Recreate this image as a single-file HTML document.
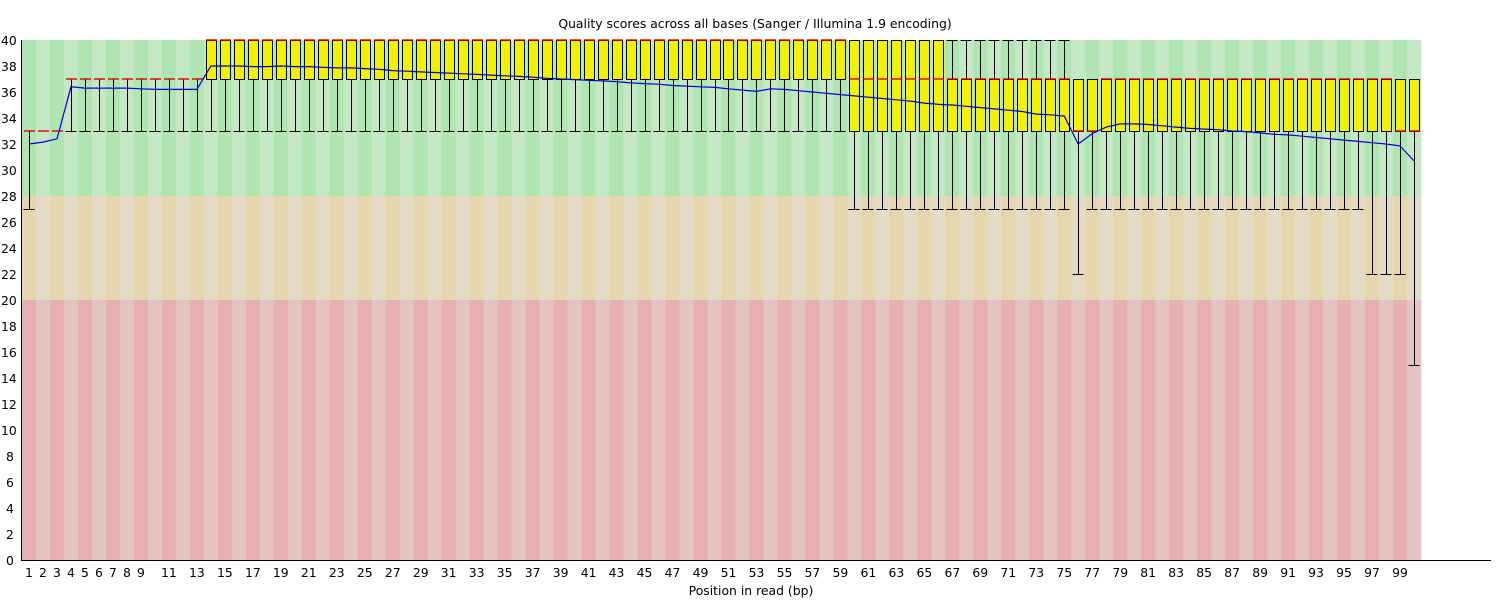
<!DOCTYPE html>
<html><head><meta charset="utf-8"><style>
html,body{margin:0;padding:0;background:#fff;width:1500px;height:600px;overflow:hidden}
svg text{font-family:"DejaVu Sans","Liberation Sans",sans-serif;font-size:12.4px;fill:#000}
</style></head><body>
<svg id="s" width="1500" height="600" xmlns="http://www.w3.org/2000/svg">
<text x="755" y="28" text-anchor="middle">Quality scores across all bases (Sanger / Illumina 1.9 encoding)</text>
<text x="751" y="595" text-anchor="middle">Position in read (bp)</text>
</svg>
<script>
var s=document.getElementById('s'),NS='http://www.w3.org/2000/svg';
function el(t,a,txt){var e=document.createElementNS(NS,t);for(var k in a)e.setAttribute(k,a[k]);if(txt!=null)e.textContent=txt;s.appendChild(e);return e;}
function Y(v){return 560-v*13;}
var W=13.99,X0=22;
for(var i=0;i<100;i++){var x=X0+i*W,d=i%2==0;
el('rect',{x:x,y:Y(40),width:W+0.3,height:13*12,fill:d?'#afe5b1':'#c4e7c4'});
el('rect',{x:x,y:Y(28),width:W+0.3,height:13*8,fill:d?'#e6d6ae':'#e4dbc6'});
el('rect',{x:x,y:Y(20),width:W+0.3,height:13*20,fill:d?'#e6afb1':'#e4c3c3'});}
var mean=[32.0,32.15,32.4,36.4,36.3,36.3,36.3,36.3,36.25,36.2,36.2,36.2,36.2,38.0,38.0,38.0,37.95,37.95,38.0,37.95,37.95,37.9,37.85,37.85,37.8,37.75,37.65,37.6,37.55,37.5,37.45,37.4,37.35,37.3,37.25,37.2,37.15,37.05,37.0,36.95,36.9,36.85,36.8,36.7,36.65,36.6,36.5,36.45,36.4,36.35,36.25,36.15,36.05,36.25,36.2,36.1,36.0,35.9,35.8,35.7,35.6,35.5,35.4,35.3,35.15,35.05,35.0,34.9,34.8,34.7,34.6,34.5,34.3,34.25,34.15,32.0,32.8,33.3,33.55,33.55,33.5,33.4,33.3,33.2,33.15,33.1,33.0,32.95,32.85,32.75,32.7,32.6,32.5,32.4,32.3,32.2,32.1,32.0,31.85,30.7];
function r(v){return Math.round(v)+0.5;}
function ln(x1,y1,x2,y2,col,w){el('line',{x1:x1,y1:y1,x2:x2,y2:y2,stroke:col||'#000','stroke-width':w||1,'shape-rendering':col?'auto':'crispEdges'});}
for(var p=1;p<=100;p++){var lw,q1,md,q3,uw;
if(p==1){lw=27;q1=md=q3=uw=33;}
else if(p<=3){lw=q1=md=q3=uw=33;}
else if(p<=13){lw=33;q1=md=q3=uw=37;}
else if(p<=59){lw=33;q1=37;md=40;q3=40;uw=40;}
else if(p<=66){lw=27;q1=33;md=37;q3=40;uw=40;}
else if(p<=75){lw=27;q1=33;md=37;q3=37;uw=40;}
else{q1=33;q3=37;uw=37;md=(p==76||p==77||p>=99)?33:37;
 lw=(p==76||(p>=97&&p<=99))?22:(p==100?15:27);}
var c=Math.round(X0+(p-0.5)*W)+0.5;
if(lw<q1){ln(c,r(Y(lw)),c,r(Y(q1)));ln(c-6,r(Y(lw)),c+5,r(Y(lw)));}
if(uw>q3){ln(c,r(Y(uw)),c,r(Y(q3)));ln(c-6,r(Y(uw)),c+5,r(Y(uw)));}
if(q3>q1)el('rect',{x:c-5,y:r(Y(q3)),width:10,height:(q3-q1)*13,fill:'#f2f200',stroke:'#000','stroke-width':1,'shape-rendering':'crispEdges'});
ln(c-5.5,Y(md),c+5.5,Y(md),'#e00000',1.4);}
var pts=mean.map(function(m,i){return (X0+(i+0.5)*W).toFixed(1)+','+Y(m).toFixed(1)}).join(' ');
el('polyline',{points:pts,fill:'none',stroke:'#0000dd','stroke-width':1.2});
el('line',{x1:21.5,y1:40,x2:21.5,y2:561,stroke:'#000','stroke-width':1,'shape-rendering':'crispEdges'});
el('line',{x1:21,y1:560.5,x2:1491,y2:560.5,stroke:'#000','stroke-width':1,'shape-rendering':'crispEdges'});
for(var v=0;v<=40;v+=2)el('text',{x:v<10?6:1,y:Y(v)+5},String(v));
for(var p=1;p<=99;p++){if(p>9&&p%2==0)continue;el('text',{x:X0+(p-0.5)*W,y:577,'text-anchor':'middle'},String(p));}
</script>
</body></html>
